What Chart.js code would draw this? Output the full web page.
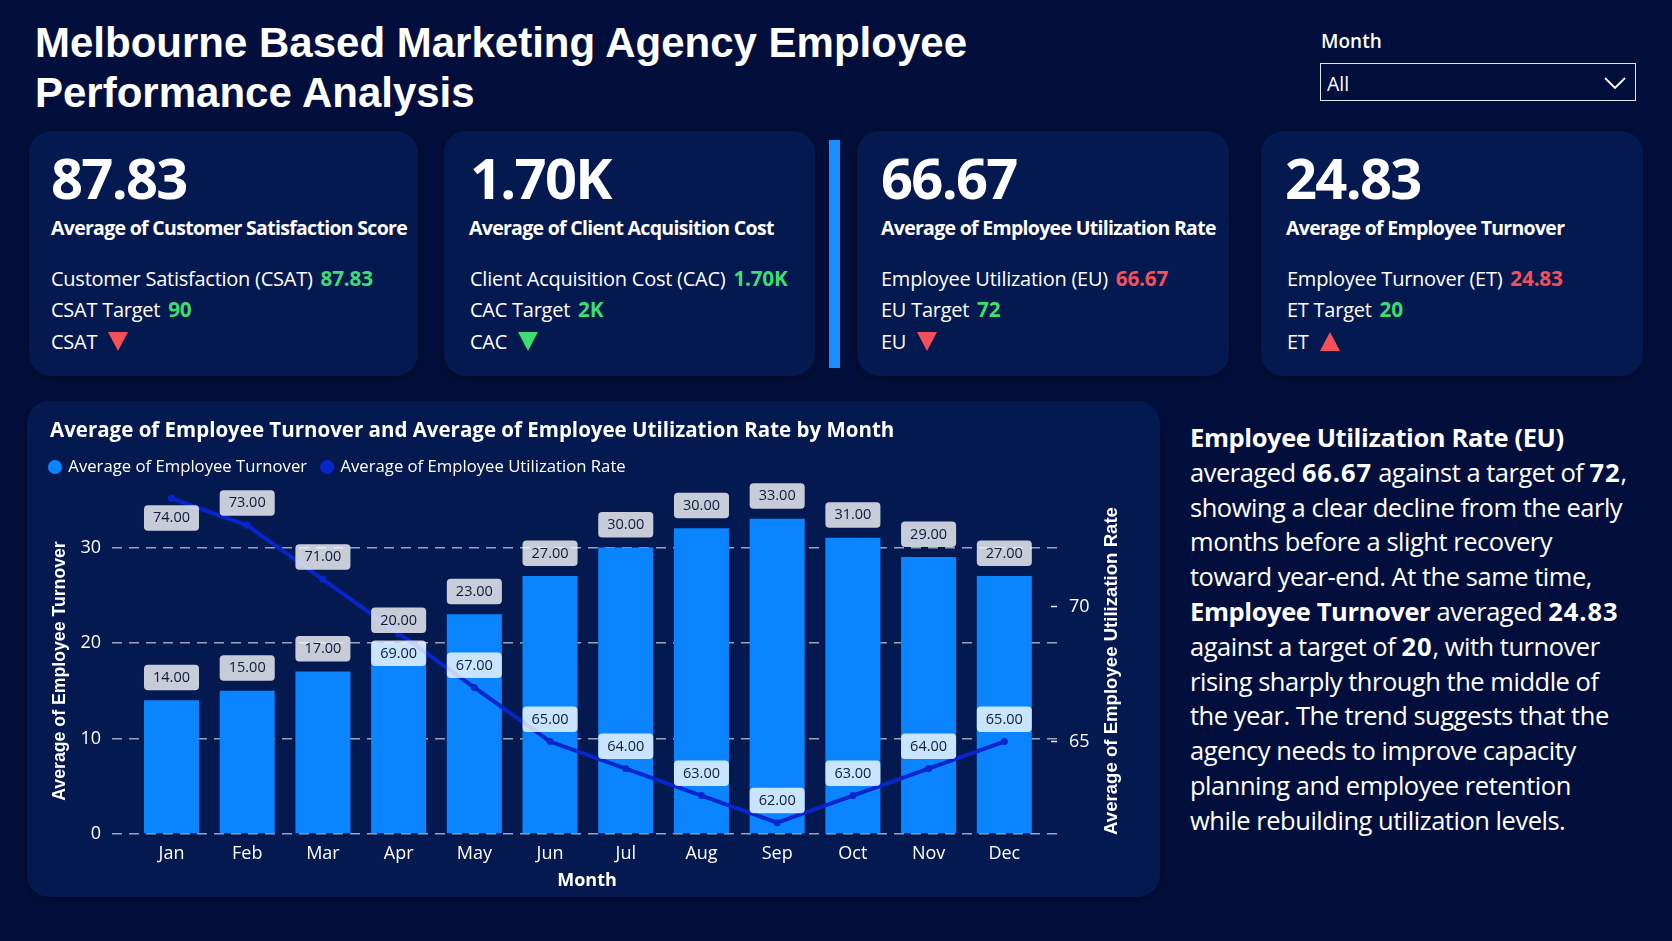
<!DOCTYPE html>
<html>
<head>
<meta charset="utf-8">
<title>Employee Performance Analysis</title>
<script src="https://cdn.jsdelivr.net/npm/chart.js@4"></script>
<style>
  html, body { margin: 0; padding: 0; }
  body { width: 1672px; height: 941px; overflow: hidden; position: relative; background: #020f3c; color: #fff; font-family: "Open Sans", "Noto Sans", sans-serif; }
  .abs { position: absolute; white-space: nowrap; }
  h1 { position: absolute; left: 35px; top: 18px; margin: 0; font: bold 42px/49.5px "Liberation Sans", Arial, sans-serif; }
  .slicer-label { left: 1321px; top: 28px; font-size: 19px; font-weight: 600; }
  .slicer { position: absolute; left: 1320px; top: 63px; width: 314px; height: 36px; border: 1.5px solid #e6e8f0; }
  .slicer span { position: absolute; left: 6px; top: 6px; font-size: 19.5px; }
  .slicer svg { position: absolute; right: 8px; top: 12px; }
  .card, .panel { position: absolute; background: #03194f; border-radius: 22px; box-shadow: 0 3px 12px rgba(0,0,0,.35); }
  .card { top: 131px; height: 245px; }
  .big { position: absolute; top: 139px; font-size: 56px; line-height: 76px; font-weight: 700; letter-spacing: -1.7px; }
  .sub { position: absolute; top: 214px; font-size: 19.5px; line-height: 28px; font-weight: 700; letter-spacing: -.7px; white-space: nowrap; }
  .row { position: absolute; font-size: 20px; line-height: 28px; letter-spacing: -.25px; white-space: nowrap; }
  .row span { margin-left: 3px; font-size: 20.8px; }
  .good { color: #3fdc72; font-weight: 700; }
  .bad { color: #f4505a; font-weight: 700; }
  .tri { display: inline-block; width: 0; height: 0; margin-left: 6px; position: relative; top: 2px; border-left: 10.5px solid transparent; border-right: 10.5px solid transparent; }
  .tri.down { border-top: 19px solid; }
  .tri.up { border-bottom: 19px solid; }
  .divider { position: absolute; left: 829px; top: 140px; width: 11px; height: 228px; background: #1a8fff; }
  .panel { left: 27px; top: 401px; width: 1133px; height: 496px; }
  #chart { position: absolute; left: 27px; top: 401px; }
  .story { position: absolute; left: 1190px; top: 420px; font-size: 25.5px; line-height: 34.8px; white-space: nowrap; letter-spacing: -.48px; }
  .story b { font-weight: 700; letter-spacing: -.4px; }
  .story b.n { letter-spacing: .9px; }
</style>
</head>
<body>
<h1>Melbourne Based Marketing Agency Employee<br>Performance Analysis</h1>

<div class="abs slicer-label">Month</div>
<div class="slicer"><span>All</span>
  <svg width="24" height="14" viewBox="0 0 24 14"><path d="M2 2 L12 12 L22 2" fill="none" stroke="#fff" stroke-width="1.8"/></svg>
</div>

<div class="card" style="left:29px;width:389px"></div>
<div class="big" style="left:51px">87.83</div>
<div class="sub" style="left:51px">Average of Customer Satisfaction Score</div>
<div class="row" style="left:51px;top:264px">Customer Satisfaction (CSAT) <span class="good">87.83</span></div>
<div class="row" style="left:51px;top:295px">CSAT Target <span class="good">90</span></div>
<div class="row" style="left:51px;top:328px">CSAT <i class="tri down" style="color:#f4505a"></i></div>

<div class="card" style="left:444px;width:371px"></div>
<div class="big" style="left:470px">1.70K</div>
<div class="sub" style="left:469px">Average of Client Acquisition Cost</div>
<div class="row" style="left:470px;top:264px">Client Acquisition Cost (CAC) <span class="good">1.70K</span></div>
<div class="row" style="left:470px;top:295px">CAC Target <span class="good">2K</span></div>
<div class="row" style="left:470px;top:328px">CAC <i class="tri down" style="color:#3fdc72"></i></div>

<div class="divider"></div>

<div class="card" style="left:857px;width:372px"></div>
<div class="big" style="left:881px">66.67</div>
<div class="sub" style="left:881px">Average of Employee Utilization Rate</div>
<div class="row" style="left:881px;top:264px">Employee Utilization (EU) <span class="bad">66.67</span></div>
<div class="row" style="left:881px;top:295px">EU Target <span class="good">72</span></div>
<div class="row" style="left:881px;top:328px">EU <i class="tri down" style="color:#f4505a"></i></div>

<div class="card" style="left:1261px;width:382px"></div>
<div class="big" style="left:1285px">24.83</div>
<div class="sub" style="left:1286px">Average of Employee Turnover</div>
<div class="row" style="left:1287px;top:264px">Employee Turnover (ET) <span class="bad">24.83</span></div>
<div class="row" style="left:1287px;top:295px">ET Target <span class="good">20</span></div>
<div class="row" style="left:1287px;top:328px">ET <i class="tri up" style="color:#f4505a"></i></div>

<div class="panel"></div>
<canvas id="chart" width="1133" height="496"></canvas>

<div class="story"><b>Employee Utilization Rate (EU)</b><br>
averaged <b class="n">66.67</b> against a target of <b class="n">72</b>,<br>
showing a clear decline from the early<br>
months before a slight recovery<br>
toward year-end. At the same time,<br>
<b>Employee Turnover</b> averaged <b class="n">24.83</b><br>
against a target of <b class="n">20</b>, with turnover<br>
rising sharply through the middle of<br>
the year. The trend suggests that the<br>
agency needs to improve capacity<br>
planning and employee retention<br>
while rebuilding utilization levels.</div>

<script>
const months = ['Jan', 'Feb', 'Mar', 'Apr', 'May', 'Jun', 'Jul', 'Aug', 'Sep', 'Oct', 'Nov', 'Dec'];
const turnover = [14, 15, 17, 20, 23, 27, 30, 32, 33, 31, 29, 27];
const turnoverLabels = ['14.00', '15.00', '17.00', '20.00', '23.00', '27.00', '30.00', '30.00', '33.00', '31.00', '29.00', '27.00'];
const utilization = [74, 73, 71, 69, 67, 65, 64, 63, 62, 63, 64, 65];
const utilizationLabels = ['74.00', '73.00', '71.00', '69.00', '67.00', '65.00', '64.00', '63.00', '62.00', '63.00', '64.00', '65.00'];
const turnoverTicks = [0, 10, 20, 30];
const utilizationTicks = [65, 70];

const barBlue = '#0a84ff';
const lineBlue = '#0626cc';
const bodyFont = '"Open Sans", "Noto Sans", sans-serif';
const titleFamily = '"Liberation Sans", Arial, sans-serif';

// month labels sitting under the line instead of over it
const labelsBelow = [0, 3];

const valueLabels = {
    id: 'valueLabels',
    afterDatasetsDraw(chart) {
        const ctx = chart.ctx;
        const bars = chart.getDatasetMeta(0).data;
        const points = chart.getDatasetMeta(1).data;
        ctx.save();
        ctx.font = '14.5px ' + bodyFont;
        ctx.textAlign = 'center';
        ctx.textBaseline = 'middle';
        months.forEach((m, i) => {
            const w = bars[i].width;
            const x = bars[i].x;
            const barTop = bars[i].y - 35.5;
            const pointTop = labelsBelow.includes(i) ? points[i].y + 7 : points[i].y - 35;
            [[barTop, turnoverLabels[i]], [pointTop, utilizationLabels[i]]].forEach(([y, txt]) => {
                ctx.fillStyle = 'rgba(255,255,255,0.78)';
                ctx.beginPath();
                ctx.roundRect(x - w / 2, y, w, 25.5, 4);
                ctx.fill();
                ctx.fillStyle = '#0d1b3a';
                ctx.fillText(txt, x, y + 13);
            });
        });
        ctx.restore();
    }
};

// both value axis titles read bottom to top, Chart.js turns the right one the other way
const axisTitles = {
    id: 'axisTitles',
    afterDraw(chart) {
        const ctx = chart.ctx;
        ctx.save();
        ctx.fillStyle = '#fff';
        ctx.textAlign = 'center';
        ctx.textBaseline = 'middle';
        [[33, 17.7, 'Average of Employee Turnover'], [1085, 18.6, 'Average of Employee Utilization Rate']].forEach(([x, size, txt]) => {
            ctx.save();
            ctx.font = 'bold ' + size + 'px ' + titleFamily;
            ctx.translate(x, 270);
            ctx.rotate(-Math.PI / 2);
            ctx.fillText(txt, 0, 0);
            ctx.restore();
        });
        ctx.restore();
    }
};

// legend starts its first row one padding in, pull it back to the title's edge
const legendEdge = {
    id: 'legendEdge',
    afterLayout(chart) {
        chart.legend.left -= chart.options.plugins.legend.labels.padding;
    }
};

new Chart(document.getElementById('chart'), {
    type: 'bar',
    data: {
        datasets: [{
            label: 'Average of Employee Turnover',
            data: months.map((m, i) => ({ x: i + 1, y: turnover[i] })),
            backgroundColor: barBlue,
            pointStyle: 'circle',
            barPercentage: 1,
            categoryPercentage: 0.727,
            order: 2,
            yAxisID: 'y'
        }, {
            type: 'line',
            label: 'Average of Employee Utilization Rate',
            data: months.map((m, i) => ({ x: i + 1, y: utilization[i] })),
            borderColor: lineBlue,
            backgroundColor: lineBlue,
            borderWidth: 4,
            pointRadius: 3.5,
            pointBorderWidth: 0,
            pointStyle: 'circle',
            tension: 0,
            order: 1,
            yAxisID: 'y1'
        }]
    },
    options: {
        responsive: false,
        animation: false,
        layout: { padding: { left: 23, right: 0, top: 0, bottom: 0 } },
        plugins: {
            title: {
                display: true,
                text: 'Average of Employee Turnover and Average of Employee Utilization Rate by Month',
                align: 'start',
                color: '#fff',
                font: { family: bodyFont, size: 20.5, weight: 'bold' },
                padding: { top: 18, bottom: 0 }
            },
            legend: {
                position: 'top',
                align: 'start',
                labels: {
                    usePointStyle: true,
                    boxWidth: 10,
                    boxHeight: 10,
                    padding: 15,
                    color: '#fff',
                    font: { family: bodyFont, size: 16.7 },
                    sort: (a, b) => a.datasetIndex - b.datasetIndex,
                    generateLabels: (chart) => Chart.defaults.plugins.legend.labels.generateLabels(chart).map((item) => {
                        item.lineWidth = 0;
                        return item;
                    })
                }
            },
            tooltip: { enabled: false }
        },
        scales: {
            x: {
                type: 'linear',
                bounds: 'data',
                offset: false,
                min: 0.214,
                max: 12.762,
                grid: { display: false },
                border: { display: false },
                title: {
                    display: true,
                    text: 'Month',
                    color: '#fff',
                    font: { family: bodyFont, size: 18, weight: 'bold' },
                    padding: { top: 0, bottom: 5 }
                },
                afterBuildTicks: (s) => { s.ticks = months.map((m, i) => ({ value: i + 1 })); },
                ticks: {
                    autoSkip: false,
                    maxRotation: 0,
                    padding: 1,
                    color: '#fff',
                    font: { family: bodyFont, size: 18 },
                    callback: (v) => months[v - 1]
                },
                afterFit: (s) => { s.height = 63; }
            },
            y: {
                position: 'left',
                bounds: 'data',
                min: 0,
                max: 36.5,
                grid: {
                    color: 'rgba(205,210,222,0.75)',
                    lineWidth: 1.5,
                    drawTicks: false
                },
                border: { display: false, dash: [10, 7] },
                afterBuildTicks: (s) => { s.ticks = turnoverTicks.map((v) => ({ value: v })); },
                ticks: {
                    padding: 11,
                    color: '#fff',
                    font: { family: bodyFont, size: 18 }
                },
                afterFit: (s) => { s.width = 62; }
            },
            y1: {
                position: 'right',
                bounds: 'data',
                min: 61.58,
                max: 74.48,
                // tick mark runs back inside the plot, the dash keeps only a short piece of it
                grid: {
                    drawOnChartArea: false,
                    tickLength: -11,
                    tickColor: '#e6e8f0',
                    tickWidth: 1.5,
                    tickBorderDash: [0, 5, 6, 100]
                },
                border: { display: false },
                afterBuildTicks: (s) => { s.ticks = utilizationTicks.map((v) => ({ value: v })); },
                ticks: {
                    padding: 18,
                    color: '#fff',
                    font: { family: bodyFont, size: 18 }
                },
                afterFit: (s) => { s.width = 98; }
            }
        }
    },
    plugins: [valueLabels, axisTitles, legendEdge]
});
</script>
</body>
</html>
